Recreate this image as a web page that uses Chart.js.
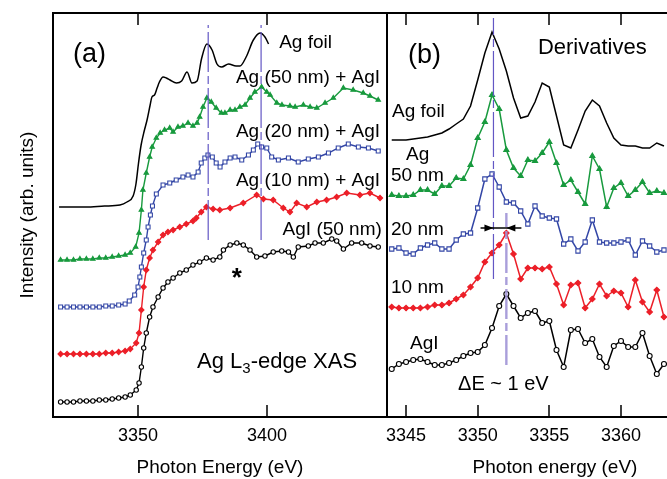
<!DOCTYPE html>
<html lang="en">
<head>
<meta charset="UTF-8">
<title>Ag L3-edge XAS and derivatives</title>
<script src="https://cdn.jsdelivr.net/npm/chart.js"></script>
<style>
  body { margin: 0; width: 667px; height: 479px; overflow: hidden; background: #fff; position: relative; }
  #chartA { position: absolute; left: 0; top: 0; }
  #chartB { position: absolute; left: 386px; top: 0; }
</style>
</head>
<body>
<canvas id="chartA" width="390" height="479"></canvas>
<canvas id="chartB" width="338" height="479"></canvas>
<script>
// ---- panel (a): XAS spectra, intensity in arb. units (curves offset) ----
const foilA_E = [3319.4, 3329.8, 3337, 3343.0, 3345.7, 3348.1, 3349.2, 3350.2, 3351.2, 3352.5, 3353.5, 3354.7, 3355.4, 3356.4, 3357.4, 3358.3, 3359.7, 3361.0, 3362.4, 3364.9, 3366.9, 3369.0, 3370.9, 3372.9, 3374.6, 3376.7, 3378.7, 3380.6, 3382.4, 3385.1, 3388.0, 3389.5, 3391.9, 3394.7, 3397.3, 3399.2, 3400.6];
const foilA_I = [210, 210, 211, 212, 215, 221, 233, 254, 272, 287, 297, 312, 320, 322, 329, 335, 340, 339, 337, 334, 336, 345, 334, 336, 358, 373, 367, 353, 350, 353, 351, 351, 360, 377, 384, 380, 373];

const ag50_E = [3320, 3322.5, 3325, 3327.5, 3330, 3332.5, 3335, 3337.5, 3340, 3342.5, 3345, 3347, 3349.1, 3350.4, 3351.3, 3351.9, 3353.2, 3354.5, 3355.5, 3357.1, 3358.6, 3360.3, 3362.3, 3363.6, 3365.5, 3367.4, 3369.4, 3371.3, 3372.9, 3373.9, 3375.2, 3376.7, 3378.4, 3380.3, 3382.3, 3383.7, 3385.7, 3387.6, 3389.5, 3391.5, 3393.4, 3395.3, 3397.9, 3399.9, 3401.2, 3403.8, 3405.8, 3408.9, 3410.9, 3414.1, 3416.7, 3419.3, 3422.5, 3425.7, 3429.6, 3433.4, 3437.3, 3439.9, 3443.1];
const ag50_I = [157, 157, 157, 158, 158, 158, 159, 159, 160, 161, 162, 164, 170, 184, 207, 227, 244, 260, 270, 279, 284, 287, 289, 285, 290, 291, 294, 291, 294, 300, 310, 319, 315, 309, 304, 304, 307, 307, 310, 312, 319, 325, 330, 325, 322, 314, 312, 311, 310, 312, 310, 309, 314, 319, 329, 327, 324, 321, 317];

const ag20_E = [3320, 3322.5, 3325, 3327.5, 3330, 3332.5, 3335, 3337.5, 3340, 3342.5, 3345, 3346.6, 3348.7, 3350.0, 3350.7, 3351.3, 3352.2, 3353.2, 3353.9, 3354.8, 3355.6, 3357.1, 3359.7, 3362.3, 3364.8, 3367.4, 3369.4, 3371.3, 3373.3, 3374.5, 3375.9, 3377.1, 3378.8, 3380.3, 3381.8, 3383.7, 3385.7, 3387.6, 3390.2, 3392.8, 3394.7, 3396.4, 3397.9, 3399.9, 3401.8, 3404.4, 3408.3, 3412.1, 3416.0, 3419.9, 3423.8, 3427.6, 3431.5, 3435.4, 3439.3, 3443.1];
const ag20_I = [110, 110, 110, 110, 110, 110, 110, 111, 111, 112, 113, 116, 122, 130, 140, 150, 164, 177, 190, 202, 211, 223, 232, 234, 237, 240, 242, 240, 245, 254, 259, 262, 260, 254, 250, 255, 259, 260, 257, 262, 267, 273, 270, 269, 260, 257, 259, 255, 258, 260, 264, 269, 273, 270, 269, 266];

const ag10_E = [3320, 3322.5, 3325, 3327.5, 3330, 3332.5, 3335, 3337.5, 3340, 3342.5, 3345, 3347, 3349.3, 3350.4, 3351.3, 3352.2, 3353.2, 3354.5, 3355.8, 3357.8, 3359.7, 3361.6, 3363.6, 3366.2, 3368.7, 3371.3, 3372.6, 3374.5, 3376.5, 3379.1, 3381.7, 3385.7, 3390.8, 3396.0, 3398.6, 3402.4, 3406.3, 3408.9, 3411.5, 3415.4, 3419.3, 3423.1, 3427.0, 3430.9, 3436.0, 3439.9, 3443.8];
const ag10_I = [63, 63, 63, 63, 63, 63, 63, 64, 64, 65, 66, 68, 74, 84, 107, 130, 147, 159, 167, 175, 182, 185, 187, 190, 193, 196, 199, 205, 210, 208, 207, 209, 214, 222, 218, 217, 209, 205, 214, 210, 215, 217, 220, 224, 222, 224, 219];

const agiA_E = [3320, 3322.5, 3325, 3327.5, 3330, 3332.5, 3335, 3337.5, 3340, 3342.5, 3345, 3347, 3349.3, 3350.4, 3351.3, 3352.2, 3353.2, 3354.5, 3355.8, 3357.8, 3359.7, 3361.6, 3363.6, 3366.2, 3368.7, 3371.3, 3373.9, 3376.5, 3379.1, 3381.7, 3383.1, 3385.7, 3388.3, 3390.8, 3393.4, 3396.0, 3399.2, 3402.4, 3405.7, 3408.3, 3410.2, 3412.1, 3416.0, 3418.6, 3421.8, 3425.1, 3427.0, 3429.6, 3432.8, 3436.7, 3439.9, 3443.1];
const agiA_I = [15, 15, 15, 16, 16, 16, 17, 17, 18, 19, 20, 22, 27, 34, 50, 69, 84, 100, 110, 120, 129, 135, 139, 144, 147, 152, 155, 159, 157, 160, 167, 172, 174, 172, 167, 160, 161, 165, 166, 165, 160, 170, 171, 174, 174, 178, 176, 168, 174, 174, 171, 170];

const guideA_E = [3377.2, 3397.7];
const guideA_span = [177, 392];
const ticksA = [3350, 3400];

// ---- panel (b): derivatives ----
const derivE = [3344.0, 3344.5, 3345.0, 3345.5, 3346.0, 3346.5, 3347.0, 3347.5, 3348.0, 3348.5, 3349.0, 3349.5, 3350.0, 3350.5, 3351.0, 3351.5, 3352.0, 3352.5, 3353.0, 3353.5, 3354.0, 3354.5, 3355.0, 3355.5, 3356.0, 3356.5, 3357.0, 3357.5, 3358.0, 3358.5, 3359.0, 3359.5, 3360.0, 3360.5, 3361.0, 3361.5, 3362.0, 3362.5, 3363.0];
const dFoil = [277, 277, 277, 278, 279, 280, 282, 284, 288, 293, 298, 311, 337, 364, 385, 368, 346, 319, 299, 301, 315, 334, 330, 301, 272, 269, 287, 306, 317, 311, 294, 279, 272, 271, 271, 269, 269, 274, 271];
const d50 = [222, 221, 221, 222, 227, 227, 223, 231, 231, 239, 238, 252, 279, 295, 322, 308, 267, 249, 241, 257, 256, 264, 275, 254, 232, 237, 225, 213, 261, 248, 210, 229, 234, 221, 227, 235, 224, 226, 224];
const d20 = [168, 169, 164, 163, 169, 172, 174, 168, 168, 177, 183, 184, 209, 238, 243, 230, 215, 214, 206, 193, 211, 201, 199, 198, 173, 178, 166, 175, 197, 175, 174, 174, 175, 177, 162, 176, 171, 165, 167];
const d10 = [110, 109, 109, 109, 109, 110, 112, 112, 114, 118, 122, 130, 139, 155, 164, 172, 184, 163, 138, 149, 149, 148, 150, 133, 112, 132, 134, 109, 118, 133, 121, 126, 124, 110, 137, 115, 105, 127, 100];
const dAgI = [48, 53, 55, 57, 58, 55, 52, 52, 54, 57, 61, 64, 65, 72, 89, 111, 123, 111, 99, 104, 106, 94, 96, 67, 50, 87, 88, 74, 78, 60, 50, 71, 76, 70, 70, 84, 61, 43, 53];

const edgeAg_E = 3351.1, edgeAg_span = [138, 399];
const edgeAgI_E = 3352.0, edgeAgI_span = [52, 204];
const shiftArrow = { y: 189, from: 3350.2, to: 3353.05 };
const ticksB = [3345, 3350, 3355, 3360, 3365];

const FAMILY = '"Liberation Sans", Arial, sans-serif';
Chart.defaults.font.family = FAMILY;
Chart.defaults.color = '#000';

const GREEN = '#189a3e', BLUE = '#3346a6', RED = '#ec1f28', GUIDE = '#6357c4', LAV = 'rgba(160,148,214,0.9)';

function pts(E, I) { return E.map((e, i) => ({ x: e, y: I[i] })); }
function vline(e, span) { return [{ x: e, y: span[0] }, { x: e, y: span[1] }]; }

const framePlugin = {
  id: 'frame',
  afterDraw(chart, args, opts) {
    const { ctx, chartArea: a, scales: { x } } = chart;
    ctx.save();
    ctx.strokeStyle = '#000';
    ctx.lineWidth = 2;
    ctx.strokeRect(a.left, a.top, a.right - a.left, a.bottom - a.top);
    ctx.lineWidth = 1.5;
    ctx.beginPath();
    opts.ticks.forEach(v => {
      const px = Math.round(x.getPixelForValue(v));
      ctx.moveTo(px, a.top); ctx.lineTo(px, a.top + 12);
      ctx.moveTo(px, a.bottom); ctx.lineTo(px, a.bottom - 12);
    });
    ctx.stroke();
    ctx.restore();
  }
};

const textPlugin = {
  id: 'texts',
  afterDatasetsDraw(chart, args, opts) {
    const { ctx, scales: { x, y } } = chart;
    ctx.save();
    ctx.fillStyle = '#000';
    ctx.textBaseline = 'middle';
    opts.items.forEach(t => {
      const font = (t.bold ? 'bold ' : '') + t.size + 'px ' + FAMILY;
      ctx.font = font;
      ctx.textAlign = t.align || 'left';
      let px = x.getPixelForValue(t.e);
      const py = y.getPixelForValue(t.v);
      ctx.fillText(t.text, px, py);
      if (t.sub) {
        px += ctx.measureText(t.text).width;
        ctx.font = Math.round(t.size * 0.68) + 'px ' + FAMILY;
        ctx.textAlign = 'left';
        ctx.fillText(t.sub, px, py + t.size * 0.3);
        px += ctx.measureText(t.sub).width;
        ctx.font = font;
        ctx.fillText(t.after, px, py);
      }
    });
    ctx.restore();
  }
};

const arrowPlugin = {
  id: 'shift',
  afterDatasetsDraw(chart, args, opts) {
    if (!opts.arrow) return;
    const { ctx, scales: { x, y } } = chart;
    const a = opts.arrow;
    const py = y.getPixelForValue(a.y);
    const x0 = x.getPixelForValue(a.from), x1 = x.getPixelForValue(a.to);
    const h1 = x.getPixelForValue(edgeAg_E), h2 = x.getPixelForValue(edgeAgI_E);
    ctx.save();
    ctx.strokeStyle = '#000';
    ctx.fillStyle = '#000';
    ctx.lineWidth = 1.5;
    ctx.beginPath(); ctx.moveTo(x0, py); ctx.lineTo(x1, py); ctx.stroke();
    ctx.beginPath();
    ctx.moveTo(h1, py); ctx.lineTo(h1 - 9, py - 3.5); ctx.lineTo(h1 - 9, py + 3.5); ctx.closePath();
    ctx.moveTo(h2, py); ctx.lineTo(h2 + 9, py - 3.5); ctx.lineTo(h2 + 9, py + 3.5); ctx.closePath();
    ctx.fill();
    ctx.restore();
  }
};

function xScale(min, max, ticks, title) {
  return {
    type: 'linear', min: min, max: max,
    afterBuildTicks: s => { s.ticks = ticks.map(v => ({ value: v })); },
    afterFit: s => { s.height = 62; s.paddingLeft = 0; s.paddingRight = 0; },
    grid: { display: false, drawTicks: false },
    border: { display: false },
    ticks: { autoSkip: false, maxRotation: 0, padding: 8, color: '#000', font: { size: 18 }, callback: v => String(v) },
    title: { display: true, text: title, color: '#000', font: { size: 19 }, padding: { top: 0, bottom: 0 } }
  };
}

function lineSet(data, color, style, radius, fill, width) {
  return {
    data: data, borderColor: color, borderWidth: width || 1.4,
    pointStyle: style, pointRadius: radius, pointBorderWidth: 1.1,
    pointBackgroundColor: fill, pointBorderColor: color, tension: 0
  };
}

function guideSet(data, color, width, dash) {
  return { data: data, borderColor: color, borderWidth: width, borderDash: dash, pointRadius: 0 };
}

new Chart(document.getElementById('chartA'), {
  type: 'line',
  data: {
    datasets: [
      guideSet(vline(guideA_E[0], guideA_span), GUIDE, 1.2, [40, 4, 8, 4]),
      guideSet(vline(guideA_E[1], guideA_span), GUIDE, 1.2, [40, 4, 8, 4]),
      { data: pts(foilA_E, foilA_I), borderColor: '#000', borderWidth: 1.5, pointRadius: 0, cubicInterpolationMode: 'monotone' },
      lineSet(pts(ag50_E, ag50_I), GREEN, 'triangle', 2.6, GREEN),
      lineSet(pts(ag20_E, ag20_I), BLUE, 'rect', 2.8, '#fff'),
      lineSet(pts(ag10_E, ag10_I), RED, 'rectRot', 2.6, RED),
      lineSet(pts(agiA_E, agiA_I), '#000', 'circle', 2.2, '#fff')
    ]
  },
  options: {
    responsive: false,
    animation: false,
    events: [],
    layout: { autoPadding: false, padding: { top: 13, right: 3, left: 0, bottom: 0 } },
    plugins: {
      legend: { display: false },
      tooltip: { enabled: false },
      frame: { ticks: ticksA },
      texts: {
        items: [
          { text: '(a)', e: 3324.8, v: 362, size: 27 },
          { text: 'Ag foil', e: 3404.7, v: 374, size: 19 },
          { text: 'Ag (50 nm) + AgI', e: 3443.8, v: 339, size: 19, align: 'right' },
          { text: 'Ag (20 nm) + AgI', e: 3443.8, v: 285, size: 19, align: 'right' },
          { text: 'Ag (10 nm) + AgI', e: 3443.8, v: 236, size: 19, align: 'right' },
          { text: 'AgI (50 nm)', e: 3444.5, v: 187, size: 19, align: 'right' },
          { text: '*', e: 3386.3, v: 138, size: 26, bold: true },
          { text: 'Ag L', sub: '3', after: '-edge XAS', e: 3372.9, v: 55, size: 22 }
        ]
      }
    },
    scales: {
      x: xScale(3317.05, 3446.5, ticksA, 'Photon Energy (eV)'),
      y: {
        min: 0, max: 404,
        afterFit: s => { s.width = 53; },
        grid: { display: false, drawTicks: false },
        border: { display: false },
        ticks: { display: false },
        title: { display: true, text: 'Intensity (arb. units)', color: '#000', font: { size: 19 }, padding: { top: 16, bottom: 0 } }
      }
    }
  },
  plugins: [framePlugin, textPlugin]
});

new Chart(document.getElementById('chartB'), {
  type: 'line',
  data: {
    datasets: [
      guideSet(vline(edgeAg_E, edgeAg_span), GUIDE, 1.2, [45, 4, 8, 4]),
      guideSet(vline(edgeAgI_E, edgeAgI_span), LAV, 2.4, [30, 4, 8, 4]),
      { data: pts(derivE, dFoil), borderColor: '#000', borderWidth: 1.5, pointRadius: 0 },
      lineSet(pts(derivE, d50), GREEN, 'triangle', 3, GREEN, 1.5),
      lineSet(pts(derivE, d20), BLUE, 'rect', 3, '#fff', 1.5),
      lineSet(pts(derivE, d10), RED, 'rectRot', 2.8, RED, 1.5),
      lineSet(pts(derivE, dAgI), '#000', 'circle', 2.5, '#fff', 1.5)
    ]
  },
  options: {
    responsive: false,
    animation: false,
    events: [],
    layout: { autoPadding: false, padding: { top: 13, right: 0, left: 0, bottom: 0 } },
    plugins: {
      legend: { display: false },
      tooltip: { enabled: false },
      frame: { ticks: ticksB },
      shift: { arrow: shiftArrow },
      texts: {
        items: [
          { text: '(b)', e: 3345.14, v: 361, size: 27 },
          { text: 'Derivatives', e: 3354.2, v: 369, size: 22 },
          { text: 'Ag foil', e: 3344.02, v: 305, size: 19 },
          { text: 'Ag', e: 3345.0, v: 262, size: 19 },
          { text: '50 nm', e: 3343.95, v: 241, size: 19 },
          { text: '20 nm', e: 3343.95, v: 187, size: 19 },
          { text: '10 nm', e: 3343.95, v: 129, size: 19 },
          { text: 'AgI', e: 3345.28, v: 73, size: 19 },
          { text: '\u0394E ~ 1 eV', e: 3348.63, v: 33, size: 20 }
        ]
      }
    },
    scales: {
      x: xScale(3343.6, 3367.19, ticksB, 'Photon energy (eV)'),
      y: { display: false, min: 0, max: 404 }
    }
  },
  plugins: [framePlugin, textPlugin, arrowPlugin]
});
</script>
</body>
</html>
